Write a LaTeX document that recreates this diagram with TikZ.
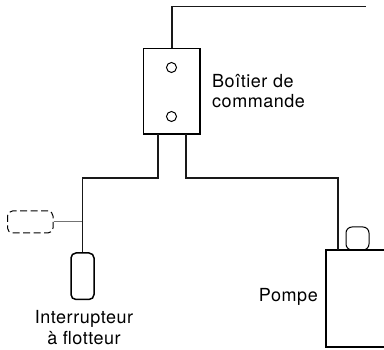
\documentclass[tikz,border=0pt]{standalone}
\usepackage{fontspec}
\setmainfont[LetterSpace=3]{TeX Gyre Heros}
\begin{document}
\begin{tikzpicture}[x=1pt,y=-1pt,
  wire/.style={line width=1.5pt,black!90},
  midwire/.style={line width=1.2pt,black!90},
  thinwire/.style={line width=1pt,black!55},
  boxnode/.style={draw,line width=1.5pt,inner sep=0pt,minimum width=#1},
  knob/.style={circle,draw,line width=1pt,inner sep=0pt,minimum size=10pt},
  lab/.style={font=\fontsize{18}{20.4}\selectfont,inner sep=0pt}]
\useasboundingbox (0,0) rectangle (384,350);
\fill[white] (0,0) rectangle (384,350);
\node[boxnode=56.5pt,minimum height=85.5pt] (box) at (171.75,91.25) {};
\node[knob] (k1) at (171.5,67.5) {};
\node[knob] (k2) at (171.5,116.5) {};
\coordinate (b1) at (172,48.5);
\coordinate (supply) at (366,6.5);
\draw[wire] (b1) -- (b1 |- supply) -- (supply);
\coordinate (o1) at (158,134);
\coordinate (o2) at (186,134);
\node[draw,rounded corners=5pt,line width=1.5pt,inner sep=0pt,minimum width=23pt,minimum height=46.5pt] (float) at (82.5,276.25) {};
\node[draw,rounded corners=5pt,line width=1pt,dash pattern=on 7pt off 3.5pt,black,inner sep=0pt,minimum width=45.5pt,minimum height=22pt] (alt) at (30.25,222) {};
\coordinate (fl) at (82.5,178);
\coordinate (j) at (82.5,222);
\draw[thinwire] (alt.east) -- (j);
\draw[wire] (o1) -- (158,178) -- (fl) -- (float.north);
\draw[line width=1.5pt] (384,250) -- (326,250) -- (326,347) -- (384,347);
\coordinate (pumptop) at (338,250);
\draw[midwire] (o2) -- (186,178) -- (338,178) -- (pumptop);
\node[draw,rounded corners=6pt,line width=1pt,inner sep=0pt,minimum width=23pt,minimum height=23pt] (cap) at (357.5,238.5) {};
\node[lab,align=left,anchor=north west] (t1) at (212,73.8) {Boîtier de\\commande};
\node[lab,align=center,anchor=north] (t2) at (84,310.3) {Interrupteur\\à flotteur};
\node[lab,anchor=base east] (t3) at (318,301.7) {Pompe};
\end{tikzpicture}
\end{document}
